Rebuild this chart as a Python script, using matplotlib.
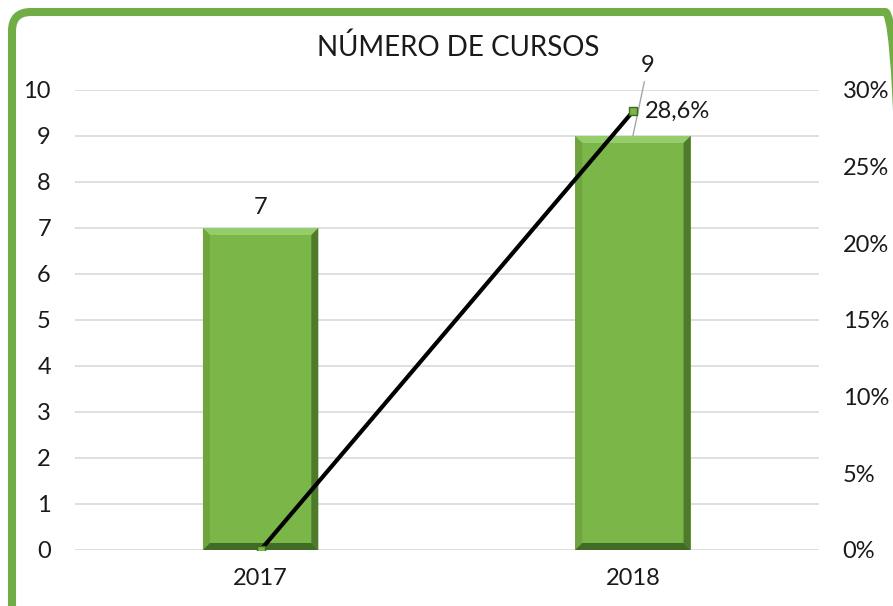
import matplotlib
matplotlib.use("Agg")
import matplotlib.pyplot as plt
from matplotlib.patches import Polygon, FancyBboxPatch
from matplotlib.ticker import FuncFormatter
from matplotlib.transforms import IdentityTransform
import numpy as np

years = ["2017", "2018"]
cursos = [7, 9]
variacao = [0.0, 0.286]
var_labels = ["", "28,6%"]
title = "NÚMERO DE CURSOS"

plt.rcParams['font.family'] = ['Lato', 'DejaVu Sans']

W, H = 893, 606
fig = plt.figure(figsize=(W/100, H/100), dpi=100)
fig.patch.set_facecolor("white")

# green rounded border (pixel coordinates, origin bottom-left)
border = FancyBboxPatch((12, -40), 904 - 12, (H - 12) + 40,
                        boxstyle="round,pad=0,rounding_size=19",
                        transform=IdentityTransform(), fill=False,
                        edgecolor="#70AD47", linewidth=5.8, zorder=0)
fig.patches.append(border)

ax = fig.add_axes([74.5/W, 56/H, (819-74.5)/W, 460/H])
x = np.arange(len(years))
bw = 0.31
face = "#7AB648"
bars = ax.bar(x, cursos, width=bw, color=face, zorder=2)
ax.set_xlim(-0.5, 1.5)
ax.set_ylim(0, 10)
ax.set_yticks(range(0, 11))
ax.set_xticks(x)
ax.set_xticklabels(years)
ax.grid(axis="y", color="#D9D9D9", linewidth=1.2, zorder=0)
ax.set_axisbelow(True)
for s in ax.spines.values():
    s.set_visible(False)
ax.tick_params(axis="both", length=0, labelsize=17, colors="#1a1a1a")
ax.tick_params(axis="y", pad=17)
ax.tick_params(axis="x", pad=13)

# bevel effect
px_x = 2.0 / 744.5
px_y = 10.0 / 460
b = 7
for rect in bars:
    x0 = rect.get_x(); x1 = x0 + rect.get_width(); y1 = rect.get_height(); y0 = 0
    dx = b * px_x; dy = b * px_y
    top = Polygon([[x0, y1], [x1, y1], [x1-dx, y1-dy], [x0+dx, y1-dy]], closed=True, color="#95CC6C", zorder=3, lw=0)
    left = Polygon([[x0, y1], [x0+dx, y1-dy], [x0+dx, y0+dy], [x0, y0]], closed=True, color="#6FA43F", zorder=3, lw=0)
    right = Polygon([[x1, y1], [x1-dx, y1-dy], [x1-dx, y0+dy], [x1, y0]], closed=True, color="#4E7A2C", zorder=3, lw=0)
    bottom = Polygon([[x0, y0], [x0+dx, y0+dy], [x1-dx, y0+dy], [x1, y0]], closed=True, color="#426B25", zorder=3, lw=0)
    for p in (top, left, right, bottom):
        ax.add_patch(p)

# value labels
ax.annotate(str(cursos[0]), (x[0], cursos[0]), xytext=(0, 7), textcoords="offset points",
            ha="center", va="bottom", fontsize=17, color="#1a1a1a")
ax.annotate(str(cursos[1]), (x[1], cursos[1]), xytext=(x[1] + 0.04, 10.3),
            textcoords="data", ha="center", va="bottom", fontsize=17, color="#1a1a1a",
            annotation_clip=False,
            arrowprops=dict(arrowstyle="-", color="#A6A6A6", lw=1, shrinkA=2, shrinkB=0))

ax2 = ax.twinx()
ax2.set_ylim(0, 0.30)
ax2.set_yticks(np.arange(0, 0.301, 0.05))
ax2.yaxis.set_major_formatter(FuncFormatter(lambda v, p: f"{round(v*100)}%"))
for s in ax2.spines.values():
    s.set_visible(False)
ax2.tick_params(axis="y", length=0, labelsize=17, colors="#1a1a1a", pad=17)
ax2.plot(x, variacao, color="black", lw=3, zorder=5, marker="s", markersize=6,
         markerfacecolor="#7AB648", markeredgecolor="#3E6B22", markeredgewidth=1)
ax2.annotate(var_labels[1], (x[1], variacao[1]), xytext=(9, 0), textcoords="offset points",
             ha="left", va="center", fontsize=17, color="#1a1a1a")

fig.text(458/W, 1 - 47/H, title, ha="center", va="center", fontsize=20, color="#1a1a1a")

fig.savefig("out.png", dpi=100)
